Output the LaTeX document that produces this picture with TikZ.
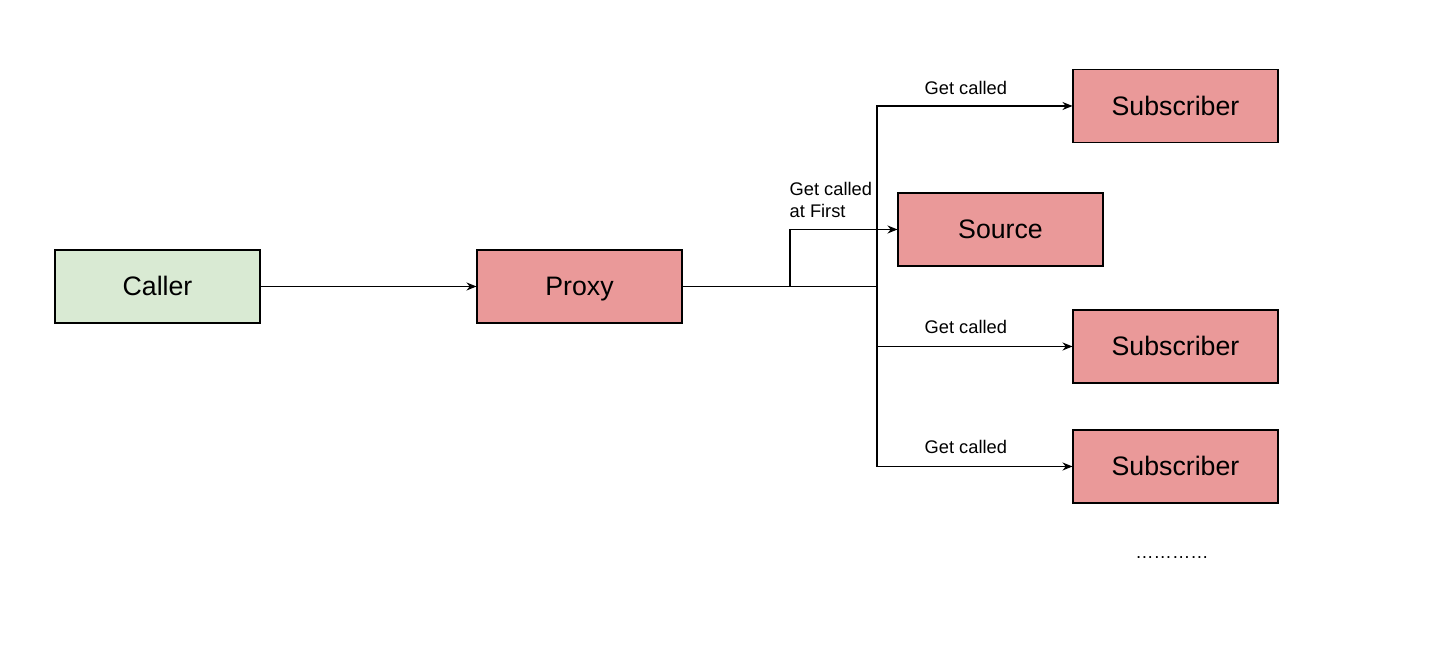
\documentclass[tikz,border=0pt]{standalone}
\usepackage{fontspec}
\setmainfont{Liberation Sans}
\usetikzlibrary{arrows.meta}

\definecolor{callergreen}{HTML}{D9EAD3}
\definecolor{proxyred}{HTML}{EA9999}

\begin{document}
\begin{tikzpicture}[
  >={Stealth[length=1mm,width=0.8mm]},
  box/.style={
    draw,
    line width=0.3pt,
    minimum width=2.05cm,
    minimum height=0.73cm,
    inner sep=0pt,
    text height=5.4pt,
    text depth=0pt,
    font=\fontsize{7.6}{9}\selectfont
  },
  greenbox/.style={box, fill=callergreen},
  redbox/.style={box, fill=proxyred},
  lbl/.style={
    inner sep=0pt,
    align=left,
    font=\fontsize{5.2}{6.2}\selectfont
  },
  wire/.style={line width=0.3pt},
  arr/.style={wire, ->}
]

\useasboundingbox (0,0) rectangle (14.43,-6.56);

\def\xSplit{7.90}
\def\xBus{8.77}

% Caller and proxy
\node[greenbox] (caller) at (1.575,-2.865) {Caller};
\node[redbox] (proxy) at (5.795,-2.865) {Proxy};

\draw[arr] (caller.east) -- (proxy.west);

% Source and subscribers
\node[redbox] (src) at (10.005,-2.295) {Source};
\node[redbox] (subA) at (11.755,-1.06) {Subscriber};
\node[redbox] (subB) at (11.755,-3.465) {Subscriber};
\node[redbox] (subC) at (11.755,-4.665) {Subscriber};

\node[lbl, anchor=base] (more) at (11.72,-5.59) {…………};

% Fan-out from proxy
\coordinate (split) at (\xSplit,-2.865);
\coordinate (bus) at (\xBus,-2.865);

\draw[wire] (proxy.east) -- (bus);
\draw[arr] (split) |- (src.west);

\foreach \s in {subA,subB,subC}{
  \draw[arr] (bus) |- (\s.west);
}

% Labels
\node[lbl, anchor=north west] (firstlbl) at (7.89,-1.815)
  {Get called\\at First};
\node[lbl, anchor=base west] (lblA) at (9.24,-0.95) {Get called};
\node[lbl, anchor=base west] (lblB) at (9.24,-3.34) {Get called};
\node[lbl, anchor=base west] (lblC) at (9.24,-4.54) {Get called};

\end{tikzpicture}
\end{document}
